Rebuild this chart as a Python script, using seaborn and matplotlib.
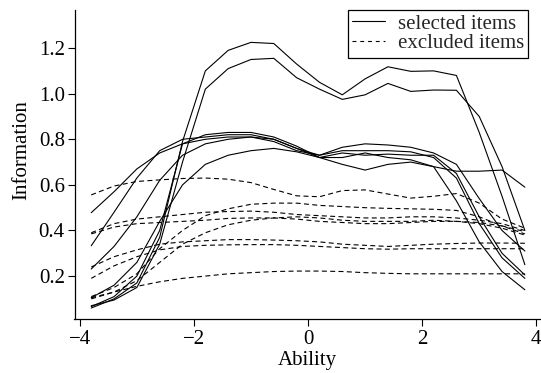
import matplotlib
matplotlib.use("Agg")
import matplotlib.pyplot as plt
import pandas as pd
import seaborn as sns
from matplotlib.lines import Line2D

# ---------------- data ----------------
ability = [-3.8, -3.4, -3.0, -2.6, -2.2, -1.8, -1.4, -1.0, -0.6, -0.2,
           0.2, 0.6, 1.0, 1.4, 1.8, 2.2, 2.6, 3.0, 3.4, 3.8]

# selected items (solid)
sel_1 = [0.06, 0.10, 0.17, 0.37, 0.79, 1.10, 1.19, 1.225, 1.22, 1.13,
         1.05, 0.995, 1.065, 1.118, 1.098, 1.10, 1.08, 0.83, 0.55, 0.25]
sel_2 = [0.07, 0.095, 0.15, 0.34, 0.70, 1.02, 1.11, 1.15, 1.155, 1.07,
         1.02, 0.975, 0.995, 1.045, 1.01, 1.016, 1.015, 0.90, 0.68, 0.40]
sel_3 = [0.478, 0.57, 0.67, 0.74, 0.78, 0.80, 0.81, 0.81, 0.79, 0.75,
         0.73, 0.75, 0.75, 0.75, 0.745, 0.72, 0.63, 0.43, 0.28, 0.19]
sel_4 = [0.333, 0.48, 0.63, 0.75, 0.80, 0.81, 0.82, 0.82, 0.80, 0.76,
         0.72, 0.74, 0.73, 0.735, 0.73, 0.73, 0.65, 0.46, 0.30, 0.205]
sel_5 = [0.231, 0.33, 0.46, 0.62, 0.73, 0.78, 0.80, 0.81, 0.80, 0.76,
         0.73, 0.765, 0.78, 0.775, 0.765, 0.74, 0.69, 0.54, 0.40, 0.31]
sel_6 = [0.066, 0.11, 0.20, 0.40, 0.78, 0.82, 0.83, 0.83, 0.81, 0.77,
         0.72, 0.72, 0.74, 0.72, 0.71, 0.68, 0.53, 0.35, 0.22, 0.14]
sel_7 = [0.105, 0.16, 0.26, 0.44, 0.60, 0.69, 0.73, 0.75, 0.76, 0.745,
         0.72, 0.69, 0.665, 0.69, 0.70, 0.68, 0.66, 0.66, 0.665, 0.59]

# excluded items (dashed)
exc_1 = [0.556, 0.595, 0.615, 0.622, 0.628, 0.63, 0.625, 0.61, 0.58, 0.552,
         0.548, 0.575, 0.578, 0.56, 0.542, 0.55, 0.562, 0.52, 0.45, 0.41]
exc_2 = [0.11, 0.15, 0.21, 0.32, 0.40, 0.465, 0.495, 0.515, 0.52, 0.52,
         0.51, 0.505, 0.50, 0.497, 0.495, 0.493, 0.488, 0.46, 0.42, 0.395]
exc_3 = [0.39, 0.43, 0.45, 0.46, 0.47, 0.48, 0.483, 0.485, 0.48, 0.47,
         0.465, 0.46, 0.455, 0.455, 0.46, 0.46, 0.455, 0.445, 0.43, 0.40]
exc_4 = [0.385, 0.415, 0.43, 0.435, 0.44, 0.445, 0.453, 0.455, 0.455, 0.45,
         0.44, 0.435, 0.43, 0.43, 0.435, 0.44, 0.44, 0.435, 0.42, 0.385]
exc_5 = [0.105, 0.13, 0.18, 0.26, 0.34, 0.39, 0.425, 0.445, 0.455, 0.46,
         0.455, 0.445, 0.44, 0.44, 0.44, 0.445, 0.44, 0.43, 0.41, 0.38]
exc_6 = [0.24, 0.285, 0.315, 0.34, 0.35, 0.355, 0.36, 0.36, 0.358, 0.355,
         0.35, 0.34, 0.335, 0.33, 0.335, 0.34, 0.343, 0.345, 0.345, 0.344]
exc_7 = [0.19, 0.245, 0.285, 0.315, 0.33, 0.335, 0.337, 0.338, 0.338, 0.335,
         0.33, 0.325, 0.32, 0.318, 0.32, 0.32, 0.32, 0.32, 0.32, 0.32]
exc_8 = [0.10, 0.13, 0.155, 0.175, 0.19, 0.20, 0.21, 0.215, 0.22, 0.222,
         0.222, 0.22, 0.215, 0.212, 0.21, 0.21, 0.21, 0.21, 0.21, 0.21]

status_labels = ["selected items", "excluded items"]
x_ticks = [-4, -2, 0, 2, 4]
y_ticks = [0.2, 0.4, 0.6, 0.8, 1.0, 1.2]

selected = [sel_1, sel_2, sel_3, sel_4, sel_5, sel_6, sel_7]
excluded = [exc_1, exc_2, exc_3, exc_4, exc_5, exc_6, exc_7, exc_8]

rows = []
for i, curve in enumerate(selected):
    for a, v in zip(ability, curve):
        rows.append({"Ability": a, "Information": v, "item": f"s{i}", "status": status_labels[0]})
for i, curve in enumerate(excluded):
    for a, v in zip(ability, curve):
        rows.append({"Ability": a, "Information": v, "item": f"e{i}", "status": status_labels[1]})
df = pd.DataFrame(rows)

# ---------------- style ----------------
sns.set_theme(style="ticks")
plt.rcParams["font.family"] = ["Liberation Serif", "DejaVu Serif"]
plt.rcParams["axes.unicode_minus"] = True

FS = 15
fig = plt.figure(figsize=(5.41, 3.73), dpi=100)
ax = fig.add_axes([74.5 / 541, 1 - 318.5 / 373, (540 - 74.5) / 541, (318.5 - 10) / 373])

dash_pat = (4.5, 3)
sns.lineplot(data=df, x="Ability", y="Information", units="item", estimator=None,
             style="status", dashes={status_labels[0]: "", status_labels[1]: dash_pat},
             color="black", linewidth=0.8, legend=False, ax=ax)

ax.set_xlim(-4.093, 4.065)
ax.set_ylim(0.014, 1.367)
ax.set_xticks(x_ticks)
ax.set_xticklabels([f"{t}".replace("-", "\u2212") for t in x_ticks])
ax.set_yticks(y_ticks)
ax.set_yticklabels([f"{t:.1f}" for t in y_ticks])

for s in ["top", "right"]:
    ax.spines[s].set_visible(False)
for s in ["left", "bottom"]:
    ax.spines[s].set_linewidth(0.9)
    ax.spines[s].set_color("black")

ax.tick_params(axis="both", direction="out", length=5, width=0.8, colors="black",
               labelsize=FS)
ax.tick_params(axis="y", pad=2)
ax.tick_params(axis="x", pad=3)

ax.set_xlabel("Ability", fontsize=FS, color="black")
ax.set_ylabel("Information", fontsize=FS, color="black")
ax.xaxis.set_label_coords(0.5, -0.105)
ax.yaxis.set_label_coords(-0.092, 0.546)

handles = [Line2D([], [], color="black", lw=0.8),
           Line2D([], [], color="black", lw=0.8, dashes=(3.5, 3.5))]
leg = ax.legend(handles, status_labels, loc="upper right",
                bbox_to_anchor=((528 - 74.5) / 465.5, 1.0), borderaxespad=0,
                frameon=True, fancybox=False, edgecolor="black", framealpha=1,
                fontsize=FS, handlelength=1.6, handletextpad=0.6,
                borderpad=0.2, labelspacing=0.0)
leg.get_frame().set_linewidth(0.9)

fig.savefig("out.png", dpi=100)
